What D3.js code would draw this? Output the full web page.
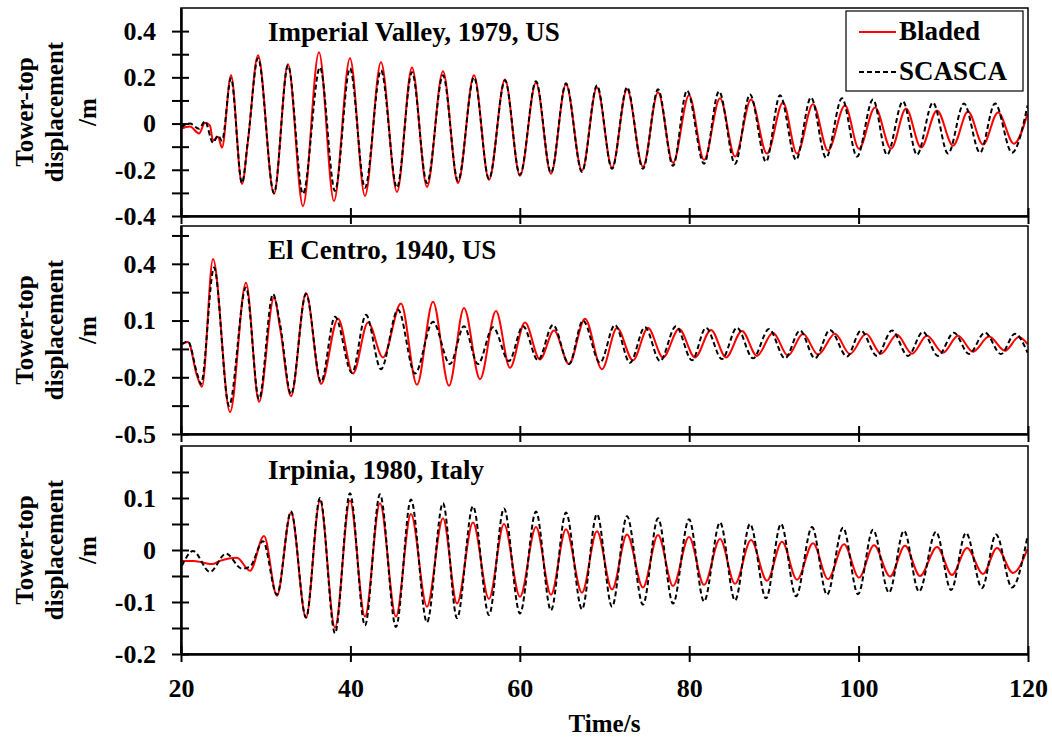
<!DOCTYPE html>
<html>
<head>
<meta charset="utf-8">
<script src="https://cdn.jsdelivr.net/npm/d3@7"></script>
<style>
  body { margin: 0; background: #fff; }
  svg { display: block; }
  text { font-family: "Liberation Serif", "Times New Roman", serif; font-weight: bold; fill: #000; }
</style>
</head>
<body>
<svg id="chart" width="1052" height="738"></svg>
<script>
// [time (s), displacement (m)]
const ivBladed = [[20.0,-0.022],[21.06,-0.013],[22.13,-0.043],[22.83,0.004],[23.42,-0.009],[23.78,-0.074],[24.37,-0.057],[24.84,-0.104],
  [25.9,0.209],[27.2,-0.261],[27.91,-0.074],[29.09,0.296],[30.98,-0.304],[32.63,0.257],[34.4,-0.357],[36.29,0.309],[38.06,-0.335],
  [39.95,0.283],[41.72,-0.313],[43.61,0.265],[45.5,-0.296],[47.27,0.243],[49.04,-0.274],[50.93,0.226],[52.7,-0.257],[54.59,0.209],
  [56.36,-0.243],[58.25,0.191],[60.02,-0.226],[61.91,0.178],[63.68,-0.217],[65.45,0.17],[67.34,-0.204],[69.11,0.157],[70.89,-0.191],
  [72.66,0.148],[74.54,-0.187],[76.32,0.135],[78.09,-0.17],[79.98,0.122],[81.75,-0.157],[83.64,0.109],[85.41,-0.143],[87.3,0.104],
  [89.18,-0.13],[91.07,0.091],[92.73,-0.13],[94.62,0.083],[96.39,-0.117],[98.39,0.078],[100.05,-0.109],[101.94,0.07],[103.83,-0.109],
  [105.6,0.065],[107.37,-0.104],[109.26,0.057],[111.15,-0.096],[112.92,0.052],[114.69,-0.091],[116.46,0.048],[118.34,-0.087],[119.95,0.043]];
const ivScasca = [[20.0,-0.017],[21.06,0.0],[22.13,-0.022],[22.83,0.01],[23.78,-0.083],[24.37,-0.052],[24.84,-0.074],
  [25.9,0.196],[27.2,-0.257],[27.91,-0.07],[29.09,0.283],[30.98,-0.3],[32.63,0.252],[34.4,-0.304],[36.41,0.243],[38.18,-0.291],
  [39.95,0.239],[41.72,-0.278],[43.61,0.23],[45.5,-0.278],[47.27,0.222],[49.04,-0.257],[50.93,0.209],[52.7,-0.248],[54.59,0.2],
  [56.36,-0.239],[58.25,0.187],[60.02,-0.222],[61.91,0.183],[63.68,-0.213],[65.45,0.174],[67.34,-0.209],[69.11,0.165],[70.89,-0.196],
  [72.66,0.157],[74.54,-0.196],[76.32,0.148],[78.09,-0.183],[79.74,0.143],[81.75,-0.174],[83.52,0.139],[85.41,-0.174],[87.18,0.126],
  [89.07,-0.165],[90.72,0.122],[92.61,-0.157],[94.38,0.113],[96.15,-0.148],[98.04,0.109],[99.81,-0.143],[101.7,0.104],[103.35,-0.135],
  [105.24,0.096],[106.89,-0.135],[108.78,0.091],[110.56,-0.13],[112.44,0.087],[114.33,-0.126],[116.11,0.087],[118.11,-0.126],[119.95,0.078]];

const ecBladed = [[20.12,-0.024],[20.83,-0.013],[21.9,-0.193],[22.48,-0.25],[23.78,0.426],[25.79,-0.384],[27.67,0.3],[29.21,-0.33],
  [30.98,0.22],[31.7,0.06],[32.99,-0.3],[34.76,0.246],[36.53,-0.235],[38.54,0.11],[40.31,-0.18],[42.08,0.09],[43.85,-0.095],
  [45.97,0.19],[47.86,-0.24],[49.75,0.2],[51.64,-0.245],[53.41,0.167],[55.3,-0.21],[57.19,0.15],[58.84,-0.15],[60.61,0.09],
  [62.38,-0.106],[64.04,0.047],[65.81,-0.13],[67.7,0.11],[69.7,-0.157],[71.48,0.06],[73.36,-0.11],[75.14,0.06],[76.91,-0.095],
  [78.8,0.055],[80.69,-0.095],[82.57,0.05],[84.35,-0.095],[86.23,0.045],[88.0,-0.087],[89.89,0.036],[91.66,-0.085],[93.44,0.03],
  [95.21,-0.08],[97.21,0.03],[98.98,-0.077],[100.87,0.03],[102.64,-0.075],[104.53,0.025],[106.3,-0.075],[108.07,0.02],[109.96,-0.07],
  [111.74,0.02],[113.51,-0.065],[115.4,0.015],[117.28,-0.06],[118.94,0.013],[119.95,-0.025]];
const ecScasca = [[20.12,-0.024],[20.83,-0.01],[21.9,-0.18],[22.36,-0.235],[23.9,0.38],[25.67,-0.35],[27.67,0.275],[29.21,-0.315],
  [30.86,0.24],[31.7,0.08],[32.99,-0.29],[34.76,0.24],[36.53,-0.225],[38.18,0.12],[40.19,-0.177],[41.84,0.13],[43.61,-0.157],
  [45.62,0.157],[47.63,-0.18],[49.75,0.093],[51.76,-0.13],[53.41,0.07],[55.06,-0.13],[56.84,0.064],[58.72,-0.114],[60.38,0.07],
  [62.15,-0.11],[63.92,0.077],[65.81,-0.13],[67.46,0.1],[69.47,-0.123],[71.24,0.077],[73.01,-0.123],[74.78,0.065],[76.55,-0.114],
  [78.44,0.07],[80.33,-0.11],[81.98,0.062],[83.87,-0.104],[85.64,0.062],[87.53,-0.1],[89.42,0.055],[91.31,-0.1],[93.08,0.047],
  [94.85,-0.1],[96.62,0.05],[98.63,-0.09],[100.28,0.047],[102.17,-0.087],[103.94,0.047],[105.83,-0.087],[107.6,0.04],[109.37,-0.087],
  [111.26,0.036],[113.03,-0.077],[114.92,0.036],[116.81,-0.077],[118.46,0.03],[119.95,-0.07]];

const irBladed = [[20.12,-0.021],[21.5,-0.021],[23.66,-0.027],[24.6,-0.021],[26.61,-0.015],[28.15,-0.04],[29.8,0.027],[31.33,-0.088],
  [32.99,0.072],[34.76,-0.13],[36.41,0.095],[38.18,-0.149],[39.95,0.095],[41.72,-0.128],[43.49,0.09],[45.38,-0.128],[47.15,0.069],
  [49.04,-0.109],[50.93,0.061],[52.59,-0.103],[54.47,0.053],[56.36,-0.094],[58.13,0.05],[60.02,-0.09],[61.91,0.044],[63.68,-0.086],
  [65.45,0.04],[67.34,-0.082],[69.11,0.036],[70.89,-0.076],[72.66,0.03],[74.54,-0.072],[76.32,0.029],[78.09,-0.069],[79.98,0.025],
  [81.75,-0.067],[83.64,0.021],[85.41,-0.065],[87.3,0.019],[89.18,-0.059],[90.96,0.016],[92.73,-0.057],[94.62,0.013],[96.39,-0.056],
  [98.28,0.011],[100.05,-0.053],[101.82,0.009],[103.71,-0.051],[105.48,0.008],[107.25,-0.05],[109.26,0.006],[111.03,-0.048],
  [112.8,0.004],[114.69,-0.046],[116.34,0.004],[118.23,-0.044],[119.95,0.002]];
const irScasca = [[20.12,-0.03],[21.42,-0.002],[23.42,-0.042],[25.31,-0.007],[27.2,-0.036],[28.15,-0.032],[29.68,0.017],[31.33,-0.086],
  [32.99,0.074],[34.76,-0.13],[36.41,0.1],[38.18,-0.16],[39.95,0.109],[41.72,-0.145],[43.49,0.107],[45.38,-0.148],[47.15,0.097],
  [49.04,-0.139],[50.93,0.09],[52.59,-0.131],[54.47,0.084],[56.36,-0.125],[58.13,0.08],[60.02,-0.122],[61.91,0.074],[63.68,-0.116],
  [65.45,0.072],[67.34,-0.114],[69.11,0.069],[70.89,-0.109],[72.66,0.065],[74.54,-0.105],[76.32,0.061],[78.09,-0.103],[79.98,0.059],
  [81.75,-0.099],[83.64,0.053],[85.41,-0.097],[87.18,0.05],[89.07,-0.093],[90.84,0.05],[92.61,-0.089],[94.5,0.044],[96.27,-0.086],
  [98.16,0.043],[99.93,-0.085],[101.7,0.039],[103.59,-0.082],[105.36,0.037],[107.13,-0.08],[109.14,0.035],[110.92,-0.077],
  [112.68,0.033],[114.57,-0.073],[116.23,0.03],[118.11,-0.072],[119.95,0.027]];

const panelTitles = ["Imperial Valley, 1979, US", "El Centro, 1940, US", "Irpinia, 1980, Italy"];
const yDomains = [[-0.4, 0.5], [-0.5, 0.6], [-0.2, 0.2]];
const yTicks = [
  [-0.4, -0.3, -0.2, -0.1, 0, 0.1, 0.2, 0.3, 0.4],
  [-0.5, -0.35, -0.2, -0.05, 0.1, 0.25, 0.4, 0.55],
  [-0.2, -0.15, -0.1, -0.05, 0, 0.05, 0.1, 0.15]
];
const yLabels = [
  [-0.4, -0.2, 0, 0.2, 0.4],
  [-0.5, -0.2, 0.1, 0.4],
  [-0.2, -0.1, 0, 0.1]
];
const xTicks = [20, 40, 60, 80, 100, 120];
const seriesNames = ["Bladed", "SCASCA"];

const panels = [[ivBladed, ivScasca], [ecBladed, ecScasca], [irBladed, irScasca]];

const svg = d3.select("#chart");
const left = 181, right = 1028;
const tops = [8, 226, 446], ph = 208;

const x = d3.scaleLinear().domain([20, 120]).range([left, right]);

// plain hyphen for negatives, "0" for zero
const fmt = v => {
  if (Math.abs(v) < 1e-9) return "0";
  return (v < 0 ? "-" : "") + Math.abs(v).toFixed(1);
};

panels.forEach((series, i) => {
  const top = tops[i], bottom = top + ph;
  const y = d3.scaleLinear().domain(yDomains[i]).range([bottom, top]);
  const g = svg.append("g");

  const line = d3.line()
    .x(d => x(d[0]))
    .y(d => y(d[1]))
    .curve(d3.curveMonotoneX);

  const clipId = "clip" + i;
  svg.append("clipPath").attr("id", clipId)
    .append("rect").attr("x", left).attr("y", top).attr("width", right - left).attr("height", ph);

  g.append("path")
    .datum(series[0])
    .attr("clip-path", `url(#${clipId})`)
    .attr("fill", "none")
    .attr("stroke", "#ff0000")
    .attr("stroke-width", 2)
    .attr("d", line);

  g.append("path")
    .datum(series[1])
    .attr("clip-path", `url(#${clipId})`)
    .attr("fill", "none")
    .attr("stroke", "#000")
    .attr("stroke-width", 2)
    .attr("stroke-dasharray", "5,3")
    .attr("d", line);

  // frame
  g.append("rect")
    .attr("x", left).attr("y", top)
    .attr("width", right - left).attr("height", ph)
    .attr("fill", "none").attr("stroke", "#000").attr("stroke-width", 1.5);

  // y axis, ticks cross the spine
  const ya = g.append("g")
    .attr("transform", `translate(${left},0)`)
    .call(d3.axisLeft(y).tickValues(yTicks[i]).tickSize(9).tickSizeOuter(0).tickPadding(16)
      .tickFormat(v => yLabels[i].some(l => Math.abs(l - v) < 1e-9) ? fmt(v) : ""));
  ya.select(".domain").attr("stroke-width", 2.5);
  ya.selectAll(".tick line").attr("x1", 8).attr("stroke-width", 2);
  ya.selectAll(".tick text").style("font-size", "26px");

  // x axis, labels only on the bottom panel
  const xa = g.append("g")
    .attr("transform", `translate(0,${bottom})`)
    .call(d3.axisBottom(x).tickValues(xTicks).tickSize(8).tickSizeOuter(0).tickPadding(17)
      .tickFormat(i === 2 ? d3.format("d") : () => ""));
  xa.select(".domain").attr("stroke-width", 2.5);
  xa.selectAll(".tick line").attr("y1", -8).attr("stroke-width", 2);
  xa.selectAll(".tick text").style("font-size", "26px");

  g.append("text")
    .attr("x", 268).attr("y", top + 33)
    .style("font-size", "27px")
    .text(panelTitles[i]);

  const cy = top + ph / 2;
  [["Tower-top", 33], ["displacement", 63], ["/m", 96]].forEach(([t, bx]) => {
    g.append("text")
      .attr("transform", `translate(${bx},${cy}) rotate(-90)`)
      .attr("text-anchor", "middle")
      .style("font-size", "25px")
      .text(t);
  });
});

// legend
const lg = svg.append("g");
lg.append("rect").attr("x", 846).attr("y", 11).attr("width", 177).attr("height", 80)
  .attr("fill", "#fff").attr("stroke", "#000").attr("stroke-width", 1.2);
[["#ff0000", null, 32], ["#000", "5,3", 72]].forEach(([c, dash, ly], k) => {
  lg.append("line").attr("x1", 859).attr("x2", 896).attr("y1", ly).attr("y2", ly)
    .attr("stroke", c).attr("stroke-width", 2).attr("stroke-dasharray", dash);
  lg.append("text").attr("x", 899).attr("y", ly + 8)
    .style("font-size", "27px")
    .text(seriesNames[k]);
});

svg.append("text")
  .attr("x", (left + right) / 2).attr("y", 732)
  .attr("text-anchor", "middle")
  .style("font-size", "25px")
  .text("Time/s");
</script>
</body>
</html>
